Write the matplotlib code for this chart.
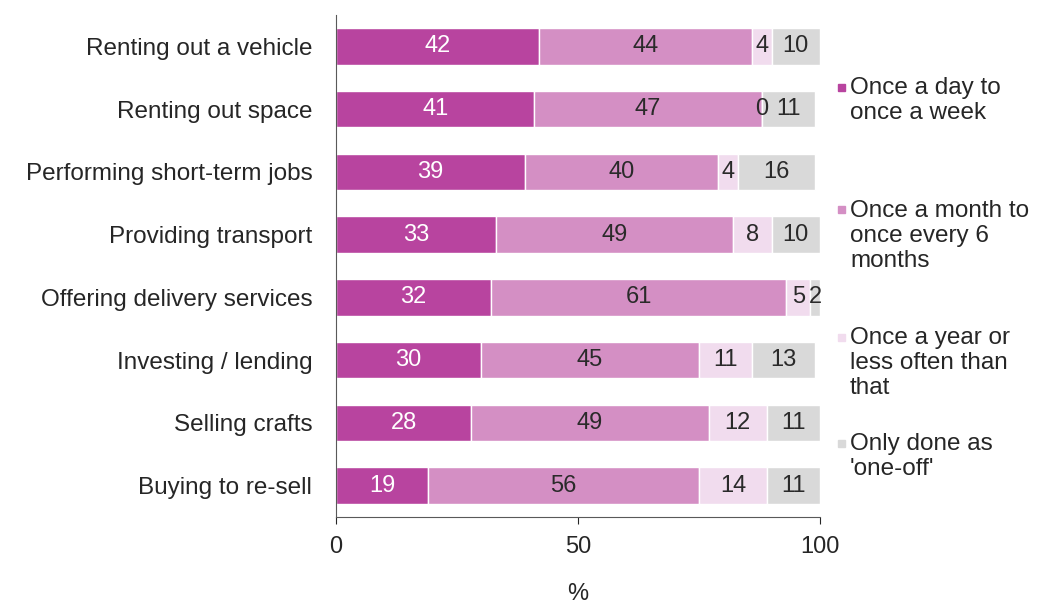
import matplotlib
matplotlib.use('Agg')
import matplotlib.pyplot as plt
from matplotlib.patches import Rectangle
import numpy as np

categories = ["Renting out a vehicle", "Renting out space", "Performing short-term jobs",
              "Providing transport", "Offering delivery services", "Investing / lending",
              "Selling crafts", "Buying to re-sell"]
daily_weekly = [42, 41, 39, 33, 32, 30, 28, 19]
monthly = [44, 47, 40, 49, 61, 45, 49, 56]
yearly = [4, 0, 4, 8, 5, 11, 12, 14]
one_off = [10, 11, 16, 10, 2, 13, 11, 11]

series_labels = ["Once a day to\nonce a week",
                 "Once a month to\nonce every 6\nmonths",
                 "Once a year or\nless often than\nthat",
                 "Only done as\n'one-off'"]
colors = ["#b8449f", "#d48fc4", "#f1dcee", "#d9d9d9"]
text_colors = ["white", "#2a2a2a", "#2a2a2a", "#2a2a2a"]

plt.rcParams['font.family'] = ['Liberation Sans', 'DejaVu Sans']

fig = plt.figure(figsize=(10.45, 6.04), dpi=100)
ax = fig.add_axes([0.3215, 0.144, 0.4632, 0.831])

#-- barre impilate
y = np.arange(len(categories))
left = np.zeros(len(categories))
for vals, col, tcol in zip([daily_weekly, monthly, yearly, one_off], colors, text_colors):
    vals = np.array(vals, dtype=float)
    ax.barh(y, vals, left=left, height=0.58, color=col, edgecolor='white', linewidth=1)
    for yi, l, v in zip(y, left, vals):
        ax.text(l + v / 2, yi, "%d" % v, ha='center', va='center', color=tcol, fontsize=17)
    left += vals
#--

#-- formattazione
ax.set_ylim(len(categories) - 0.5, -0.5)
ax.set_xlim(0, 100)
ax.set_yticks(y)
ax.set_yticklabels(categories, fontsize=17.5, color='#262626')
ax.set_xticks([0, 50, 100])
ax.tick_params(axis='x', labelsize=17, colors='#262626', length=5, direction='out', pad=9)
ax.tick_params(axis='y', length=0, pad=17)
ax.set_xlabel("%", fontsize=17, color='#262626', labelpad=18)
for s in ['top', 'right']:
    ax.spines[s].set_visible(False)
for s in ['left', 'bottom']:
    ax.spines[s].set_color('#595959')
#--

#-- legenda manuale
first_line_y = [87, 210, 337, 443]
for lab, col, py in zip(series_labels, colors, first_line_y):
    yf = 1 - py / 604.0
    fig.patches.append(Rectangle((838 / 1045.0, yf - 3.5 / 604.0), 7 / 1045.0, 7 / 604.0,
                                 transform=fig.transFigure, color=col))
    fig.text(850 / 1045.0, yf + 10 / 604.0, lab, ha='left', va='top', fontsize=17.5,
             color='#262626', linespacing=1.17)
#--

fig.savefig("out.png", dpi=100)
plt.close("all")
